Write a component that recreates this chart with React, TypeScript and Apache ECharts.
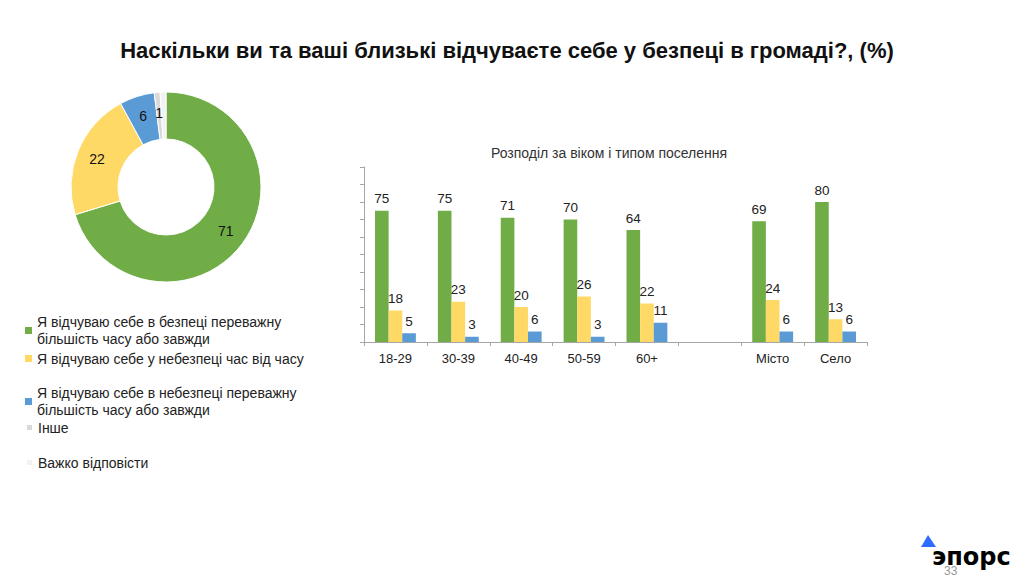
import React, { useEffect, useRef } from "react";
import * as echarts from "echarts";

const seriesNames = [
  "Я відчуваю себе в безпеці переважну більшість часу або завжди",
  "Я відчуваю себе у небезпеці час від часу",
  "Я відчуваю себе в небезпеці переважну більшість часу або завжди",
  "Інше",
  "Важко відповісти",
];
const legendLabels = [
  "Я відчуваю себе в безпеці переважну\nбільшість часу або завжди",
  "Я відчуваю себе у небезпеці час від часу",
  "Я відчуваю себе в небезпеці переважну\nбільшість часу або завжди",
  "Інше",
  "Важко відповісти",
];
const colors = ["#70AD47", "#FFD966", "#5B9BD5", "#D9D9D9", "#F2F2F2"];
const pieValues = [71, 22, 6, 1, 1];

const categories = ["18-29", "30-39", "40-49", "50-59", "60+", "", "Місто", "Село"];
const safeValues = [75, 75, 71, 70, 64, null, 69, 80];
const sometimesValues = [18, 23, 20, 26, 22, null, 24, 13];
const unsafeValues = [5, 3, 6, 3, 11, null, 6, 6];

const yTicks = { min: 0, max: 100, interval: 10 };

const legendTops = [305, 350, 376, 419, 454];

export default function App() {
  const ref = useRef<HTMLDivElement>(null);
  useEffect(() => {
    if (!ref.current) return;
    const chart = echarts.init(ref.current, null, { renderer: "svg" });
    const barData = [safeValues, sometimesValues, unsafeValues];
    const legends = seriesNames.map((name, i) => {
      const twoLine = legendLabels[i].includes("\n");
      return {
        data: [name],
        left: 25,
        top: legendTops[i],
        orient: "vertical",
        icon: "rect",
        itemWidth: 7,
        itemHeight: 7,
        itemGap: 0,
        padding: 0,
        selectedMode: false,
        formatter: () => legendLabels[i],
        textStyle: {
          fontFamily: "Liberation Sans, Arial, sans-serif",
          fontSize: 14,
          color: "#222",
          lineHeight: 17,
          padding: twoLine ? [17, 0, 0, 0] : 0,
        },
      };
    });
    chart.setOption({
      animation: false,
      color: colors,
      title: [
        {
          text: "Наскільки ви та ваші близькі відчуваєте себе у безпеці в громаді?, (%)",
          left: 502,
          top: 34,
          textAlign: "center",
          textStyle: {
            fontFamily: "Liberation Sans, Arial, sans-serif",
            fontSize: 22,
            fontWeight: "bold",
            color: "#111",
          },
        },
        {
          text: "Розподіл за віком і типом поселення",
          left: 604,
          top: 141,
          textAlign: "center",
          textStyle: {
            fontFamily: "Liberation Sans, Arial, sans-serif",
            fontSize: 14,
            fontWeight: "normal",
            color: "#333",
          },
        },
      ],
      legend: legends,
      grid: { left: 364, right: 157, top: 167, bottom: 240, containLabel: false },
      xAxis: {
        type: "category",
        data: categories,
        axisLine: { lineStyle: { color: "#A6A6A6" } },
        axisTick: { show: true, length: 4, lineStyle: { color: "#A6A6A6" } },
        axisLabel: {
          fontFamily: "Liberation Sans, Arial, sans-serif",
          fontSize: 13,
          color: "#222",
          margin: 10,
        },
      },
      yAxis: {
        type: "value",
        min: yTicks.min,
        max: yTicks.max,
        interval: yTicks.interval,
        axisLine: { show: true, lineStyle: { color: "#A6A6A6" } },
        axisTick: { show: true, length: 4, lineStyle: { color: "#A6A6A6" } },
        axisLabel: { show: false },
        splitLine: { show: false },
      },
      series: [
        ...barData.map((d, i) => ({
          type: "bar",
          name: seriesNames[i],
          data: d,
          barGap: "0%",
          barCategoryGap: "35%",
          itemStyle: { color: colors[i] },
          label: {
            show: true,
            position: "top",
            distance: 5,
            fontFamily: "Liberation Sans, Arial, sans-serif",
            fontSize: 13.5,
            color: "#222",
          },
        })),
        {
          type: "pie",
          name: "pie",
          center: [166, 187],
          radius: [48, 95],
          startAngle: 90,
          clockwise: true,
          avoidLabelOverlap: false,
          itemStyle: { borderColor: "#fff", borderWidth: 1 },
          label: {
            show: true,
            position: "inside",
            fontFamily: "Liberation Sans, Arial, sans-serif",
            fontSize: 14,
            color: "#111",
            formatter: "{c}",
          },
          labelLine: { show: false },
          data: seriesNames.map((n, i) => ({
            name: n,
            value: pieValues[i],
            itemStyle: { color: colors[i] },
          })),
        },
      ],
      graphic: [
        {
          type: "text",
          left: 944,
          top: 565,
          style: { text: "33", fill: "#999", fontSize: 12, fontFamily: "Liberation Sans, Arial, sans-serif" },
        },
        {
          type: "polygon",
          shape: { points: [[928, 535], [921, 547], [936, 547]] },
          style: { fill: "#2F6BFF" },
        },
        {
          type: "text",
          left: 932,
          top: 545,
          style: {
            text: "эпорс",
            fill: "#000",
            fontSize: 24,
            fontWeight: "bold",
            fontFamily: "DejaVu Sans, sans-serif",
          },
        },
      ],
    });
    return () => chart.dispose();
  }, []);
  return <div ref={ref} style={{ width: 1024, height: 582, position: "absolute", left: 0, top: 0 }} />;
}
